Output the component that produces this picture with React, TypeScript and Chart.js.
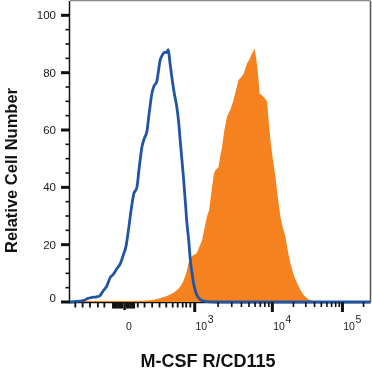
import React, { useEffect, useRef } from 'react';
import { Chart, registerables } from 'chart.js';

Chart.register(...registerables);

// ---------- data (x = display channel 0..1024, y = relative cell number) ----------
const CH_MAX = 1024;
const Y_MAX = 105;

const CONTROL_CH = [0, 34, 51, 62, 75, 91, 102, 114, 125, 137, 147, 159, 171, 182, 191, 199, 211, 218, 228, 236, 245, 253, 262, 270, 279, 287, 296, 302, 307, 314, 318, 324, 329, 335, 340, 347, 355, 364, 370, 375, 381, 387, 393, 398, 405, 410, 416, 421, 427, 432, 438, 444, 455, 468, 495, 1024];
const CONTROL_VAL = [0, 0.3, 0.7, 1.3, 1.6, 1.8, 2.2, 4.0, 5.5, 8.5, 9.6, 11.5, 13.3, 16.5, 19.5, 25, 34, 38, 40, 47, 54, 57, 59.5, 66, 72.7, 75.5, 77, 81, 84.3, 86, 86.7, 87.2, 87, 88, 84, 78.5, 73, 68, 63, 57, 50, 43, 35, 28, 21, 14.6, 10, 6.5, 4, 2.5, 1.5, 0.8, 0.3, 0.1, 0, 0];

const STAINED_CH = [0, 102, 205, 249, 273, 290, 307, 328, 341, 353, 369, 379, 387, 396, 404, 410, 420, 432, 440, 450, 457, 467, 474, 484, 490, 495, 506, 512, 518, 526, 535, 546, 557, 566, 574, 584, 592, 603, 611, 620, 625, 629, 633, 637, 642, 646, 652, 660, 666, 672, 677, 683, 691, 700, 708, 717, 725, 734, 742, 751, 762, 774, 785, 796, 812, 830, 847, 860, 1024];
const STAINED_VAL = [0.35, 0.35, 0.35, 0.4, 0.6, 0.9, 1.3, 2, 2.6, 3.2, 4.5, 5.8, 7.5, 10, 13.5, 15.5, 16.3, 17, 19, 21.5, 25, 30, 32, 40, 44.5, 46, 47, 51, 54, 60, 64.6, 67, 70.4, 74, 77.4, 78.5, 79.7, 83.2, 84.5, 86.7, 87.5, 88.5, 86, 83, 78, 72.7, 72.3, 71.5, 70.8, 69.8, 63, 56.4, 50, 43.7, 36.5, 29.7, 26, 22.8, 18, 13.5, 9.5, 6.5, 4.2, 2.4, 1, 0.2, 0.05, 0, 0];

// ---------- axis ticks ----------
const Y_MAJOR_TICKS = [0, 20, 40, 60, 80, 100];
const Y_MINOR_STEP = 5;

const X_ZERO_CH = 186;
const X_DECADE_CH = [425, 689.5, 928.4];
const X_DECADE_EXP = ['3', '4', '5'];
const X_LINEAR_TICKS_CH = [18, 43, 68, 95, 117, 231, 254, 280, 305, 328, 350, 367, 384, 396, 410];
const X_NEAR_ZERO_TICKS_CH = [147, 153, 159, 165, 171, 177, 194, 200, 206, 212, 218];

const X_TITLE = 'M-CSF R/CD115';
const Y_TITLE = 'Relative Cell Number';

const FONT = "'Liberation Sans', Arial, Helvetica, sans-serif";
const ORANGE = '#f5821f';
const BLUE = '#2155a4';

function decadeMinorTicks(): number[] {
  const out: number[] = [];
  for (let i = 0; i < X_DECADE_CH.length; i++) {
    const start = X_DECADE_CH[i];
    const width = i < X_DECADE_CH.length - 1 ? X_DECADE_CH[i + 1] - start : start - X_DECADE_CH[i - 1];
    for (let k = 2; k <= 9; k++) {
      const c = start + Math.log10(k) * width;
      if (c <= CH_MAX) out.push(c);
    }
  }
  return out;
}

const flowAxes = {
  id: 'flowAxes',
  beforeDatasetsDraw(chart: any) {
    const { ctx, chartArea: a } = chart;
    ctx.save();
    ctx.strokeStyle = '#8c8c8c';
    ctx.lineWidth = 1.3;
    ctx.beginPath();
    ctx.moveTo(a.left, a.top - 0.3);
    ctx.lineTo(a.right, a.top - 0.3);
    ctx.stroke();
    ctx.strokeStyle = '#5a5a5a';
    ctx.lineWidth = 1.6;
    ctx.beginPath();
    ctx.moveTo(a.right, a.top);
    ctx.lineTo(a.right, a.bottom);
    ctx.stroke();
    ctx.strokeStyle = '#111';
    ctx.lineWidth = 1.5;
    ctx.beginPath();
    ctx.moveTo(a.left - 0.5, a.top);
    ctx.lineTo(a.left - 0.5, a.bottom + 0.5);
    ctx.lineTo(a.right, a.bottom + 0.5);
    ctx.stroke();
    ctx.restore();
  },
  afterDraw(chart: any) {
    const { ctx, chartArea: a, scales } = chart;
    const x = scales.x;
    const y = scales.y;
    ctx.save();
    ctx.fillStyle = '#111';

    for (let v = 0; v <= 100; v += Y_MINOR_STEP) {
      const py = y.getPixelForValue(v);
      const major = Y_MAJOR_TICKS.includes(v);
      if (major) ctx.fillRect(a.left - 9, py - 1.5, 9, 3);
      else ctx.fillRect(a.left - 4.5, py - 0.8, 4.5, 1.6);
    }
    ctx.font = `11.5px ${FONT}`;
    ctx.textAlign = 'right';
    ctx.textBaseline = 'alphabetic';
    ctx.fillStyle = '#1a1a1a';
    Y_MAJOR_TICKS.forEach((v) => {
      const py = y.getPixelForValue(v);
      const shift = v === 0 ? -4.5 : 0;
      ctx.fillText(String(v), a.left - 14, py + 4 + shift);
    });

    ctx.fillStyle = '#111';
    const bottom = a.bottom;
    X_LINEAR_TICKS_CH.forEach((c) => {
      const px = x.getPixelForValue(c);
      ctx.fillRect(px - 0.9, bottom, 1.8, 5.5);
    });
    X_NEAR_ZERO_TICKS_CH.forEach((c) => {
      const px = x.getPixelForValue(c);
      ctx.fillRect(px - 1.1, bottom, 2.2, 6.5);
    });
    decadeMinorTicks().forEach((c) => {
      const px = x.getPixelForValue(c);
      ctx.fillRect(px - 0.8, bottom, 1.6, 5);
    });
    {
      const px = x.getPixelForValue(X_ZERO_CH);
      ctx.fillRect(px - 1.3, bottom, 2.6, 8);
    }
    X_DECADE_CH.forEach((c) => {
      const px = x.getPixelForValue(c);
      ctx.fillRect(px - 1.5, bottom, 3, 10);
    });

    ctx.fillStyle = '#1a1a1a';
    ctx.textAlign = 'left';
    ctx.font = `10.5px ${FONT}`;
    const labelBase = 329.5;
    ctx.fillText('0', x.getPixelForValue(X_ZERO_CH) + 1.5, labelBase);
    X_DECADE_CH.forEach((c, i) => {
      const px = x.getPixelForValue(c) + 0.8;
      ctx.fillText('10', px, labelBase);
      const w = ctx.measureText('10').width;
      ctx.fillText(X_DECADE_EXP[i], px + w + 0.6, labelBase - 6.8);
    });

    ctx.fillStyle = '#111';
    ctx.font = `bold 18px ${FONT}`;
    ctx.textAlign = 'center';
    ctx.fillText(X_TITLE, 208, 367.3);

    ctx.save();
    ctx.translate(16.7, 170.5);
    ctx.rotate(-Math.PI / 2);
    ctx.font = `bold 16.5px ${FONT}`;
    ctx.textAlign = 'center';
    ctx.fillText(Y_TITLE, 0, 0);
    ctx.restore();

    ctx.restore();
  },
};

export default function App() {
  const ref = useRef<HTMLCanvasElement | null>(null);

  useEffect(() => {
    if (!ref.current) return;
    const control = CONTROL_CH.map((c, i) => ({ x: c, y: CONTROL_VAL[i] }));
    const stained = STAINED_CH.map((c, i) => ({ x: c, y: STAINED_VAL[i] }));
    const chart = new Chart(ref.current, {
      type: 'line',
      data: {
        datasets: [
          {
            label: 'Isotype control',
            data: control,
            borderColor: BLUE,
            borderWidth: 2.8,
            pointRadius: 0,
            fill: false,
            cubicInterpolationMode: 'monotone',
            clip: false as any,
          },
          {
            label: 'M-CSF R/CD115',
            data: stained,
            borderColor: ORANGE,
            borderWidth: 0,
            backgroundColor: ORANGE,
            pointRadius: 0,
            fill: 'origin',
            tension: 0,
          },
        ],
      },
      options: {
        animation: false,
        responsive: false,
        events: [],
        layout: { padding: { left: 70, top: 1, right: 1.5, bottom: 71 } },
        scales: {
          x: { type: 'linear', min: 0, max: CH_MAX, display: false },
          y: { type: 'linear', min: 0, max: Y_MAX, display: false },
        },
        plugins: { legend: { display: false }, tooltip: { enabled: false } },
      },
      plugins: [flowAxes],
    });
    return () => chart.destroy();
  }, []);

  return (
    <div style={{ position: 'fixed', left: 0, top: 0, width: 372, height: 373, background: '#fff' }}>
      <canvas ref={ref} width={372} height={373} style={{ display: 'block' }} />
    </div>
  );
}
